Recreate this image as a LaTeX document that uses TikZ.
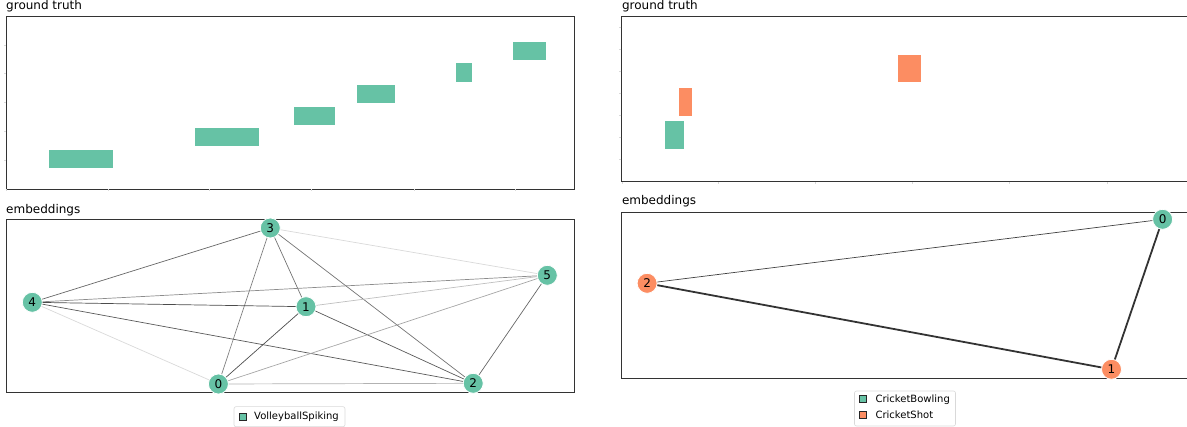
\documentclass[tikz,border=0pt]{standalone}
\usepackage{fontspec}
\setmainfont{DejaVu Sans}
\usetikzlibrary{positioning}
\definecolor{setgreen}{HTML}{66C2A5}
\definecolor{setorange}{HTML}{FC8D62}
\tikzset{green vertex/.style={circle,draw=white,line width=0.8pt,fill=setgreen,minimum size=20pt,inner sep=0pt,font=\fontsize{12}{12}\selectfont},
  orange vertex/.style={green vertex,fill=setorange},
  gt bar/.style={draw=white,line width=0.6pt},
  panel/.style={draw=black!80,line width=0.9pt},
  panel title/.style={anchor=base west,inner sep=0pt,font=\fontsize{12}{14}\selectfont},
  legend box/.style={draw=black!15,rounded corners=2pt,line width=0.6pt,inner sep=0pt},
  legend mark/.style={draw=black!85,line width=0.6pt,minimum size=7pt,inner sep=0pt},
  legend text/.style={anchor=west,inner sep=0pt,font=\fontsize{10}{12}\selectfont},
  edge/.style={line width=0.7pt},
  tick/.style={draw=black!15,line width=0.3pt}}

\begin{document}
\begin{tikzpicture}[x=1pt,y=-1pt]
        \useasboundingbox (0,0) rectangle (1187,427);

        % left: ground truth
        \node [panel title] (lgt) at (6,9.3) {ground truth};
        \draw [panel] (6,16) rectangle (574,189);
        \foreach \x in {6,108,209,311,414,515}{
                 \draw [tick] (\x,189.5) -- (\x,191.5);
        }
        \foreach \y in {45,73,102,131,160}{
                 \draw [tick] (5.5,\y) -- (3.5,\y);
        }
        \foreach \xa/\xb/\ya/\yb in {48.5/113.5/149/168.3, 194.7/259.4/127.3/146.7, 292.8/335.7/106/125.3,
                356.7/395/84.3/103.7, 455.6/472.5/62.7/82, 512/546.2/41.3/60.7}{
                 \filldraw [gt bar, fill=setgreen] (\xa,\ya) rectangle (\xb,\yb);
        }

        % left: embeddings
        \node [panel title] (lemb) at (6,213.3) {embeddings};
        \draw [panel] (6,219.7) rectangle (574,392.7);
        \foreach \n/\x/\y in {3/270.3/228, 5/547.3/275.3, 4/32.3/302.3, 1/306/306.7, 0/218.4/384, 2/473.2/383.3}{
                 \node [green vertex] (l\n) at (\x,\y) {\n};
        }
        \foreach \a/\b/\c in {3/4/60, 3/0/50, 3/1/55, 3/2/55, 3/5/15, 4/5/45, 4/1/70, 4/2/65,
                4/0/15, 1/5/25, 1/0/70, 1/2/65, 0/5/35, 0/2/30, 2/5/60}{
                 \draw [edge, draw=black!\c] (l\a) -- (l\b);
        }
        \node [legend box, minimum width=111pt, minimum height=20pt] (lleg) at (289.5,416.7) {};
        \node [legend mark, fill=setgreen] (lmark) at (243,416.7) {};
        \node [legend text] (ltext) at (254,416.7) {VolleyballSpiking};

        % right: ground truth
        \node [panel title] (rgt) at (621.8,9.3) {ground truth};
        \draw [panel] (1187,16) -- (621.8,16) -- (621.8,181.7) -- (1187,181.7);
        \foreach \x in {621.8,717.7,814.8,912.6,1009,1107}{
                 \draw [tick] (\x,182.2) -- (\x,184.2);
        }
        \foreach \y in {27,49,71,93,115,137,159}{
                 \draw [tick] (621.3,\y) -- (619.3,\y);
        }
        \foreach \xa/\xb/\ya/\yb/\col in {897/921/54.3/82.7/setorange, 678/692/87.3/116.3/setorange,
                664.4/684.6/120/149/setgreen}{
                 \filldraw [gt bar, fill=\col] (\xa,\ya) rectangle (\xb,\yb);
        }

        % right: embeddings
        \node [panel title] (remb) at (621.8,205) {embeddings};
        \draw [panel] (1187,212.3) -- (621.8,212.3) -- (621.8,378) -- (1187,378);
        \node [green vertex] (r0) at (1162.6,219.3) {0};
        \node [orange vertex] (r2) at (647.1,283.3) {2};
        \node [orange vertex] (r1) at (1111.5,369.3) {1};
        \draw [edge, draw=black!75] (r2) -- (r0);
        \draw [line width=1.8pt, draw=black!80] (r2) -- (r1);
        \draw [line width=1.8pt, draw=black!80] (r1) -- (r0);
        \node [legend box, minimum width=101pt, minimum height=35pt] (rleg) at (905,408.5) {};
        \node [legend mark, fill=setgreen] (rmarka) at (862.6,399.3) {};
        \node [legend text] (rtexta) at (875.4,399.3) {CricketBowling};
        \node [legend mark, fill=setorange] (rmarkb) at (862.6,415) {};
        \node [legend text] (rtextb) at (875.4,415) {CricketShot};
        \end{tikzpicture}
\end{document}
